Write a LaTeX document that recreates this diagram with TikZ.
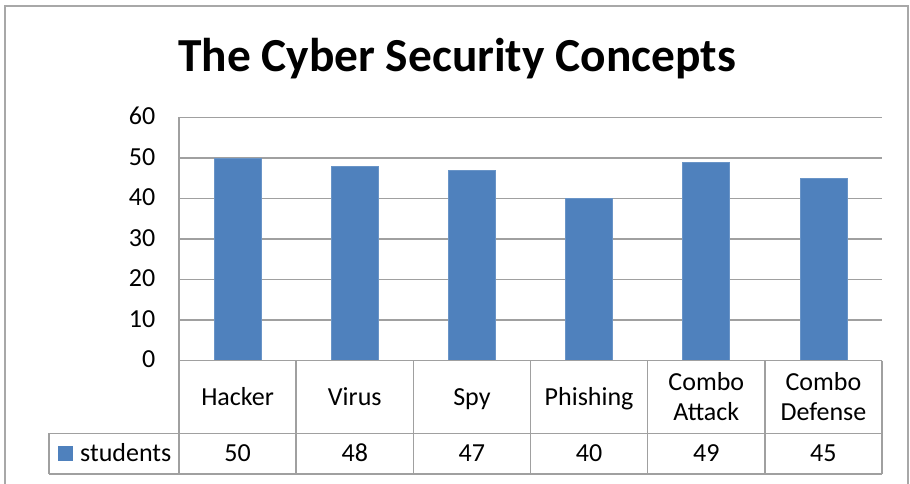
\documentclass[tikz,border=0pt]{standalone}
\usepackage{fontspec}
\setmainfont{Carlito}
\definecolor{barblue}{HTML}{4F81BD}
\definecolor{gridgray}{HTML}{A0A0A0}
\definecolor{framegray}{HTML}{A8A8A8}
\begin{document}
\begin{tikzpicture}[x=1pt,y=-1pt,
  lbl/.style={font=\fontsize{26}{30}\selectfont, text=black, inner sep=0pt, align=center},
  gridline/.style={draw=gridgray, line width=1.6pt},
  tableline/.style={draw=gridgray, line width=1.6pt},
  barfill/.style={fill=barblue, draw=barblue!85!white, line width=0.6pt}]
\useasboundingbox (0,0) rectangle (910,484);
% outer chart frame (open at the bottom)
\draw[framegray, line width=1.5pt] (5,484) -- (5,6) -- (908,6) -- (908,484);
% title
\node[font=\fontsize{47.4}{56}\bfseries\selectfont, anchor=base, inner sep=0pt] (title) at (457,72) {The Cyber Security Concepts};
% horizontal gridlines and value axis labels
\foreach \v in {0,...,6}{
  \pgfmathsetmacro{\yy}{360.5-40.53*\v}
  \pgfmathtruncatemacro{\tick}{10*\v}
  \draw[gridline] (179,\yy) -- (882,\yy);
  \node[lbl, anchor=base east] (tick\v) at (155.5,\yy+7.3) {\tick};
}
% bars
\foreach \i/\val in {0/50,1/48,2/47,3/40,4/49,5/45}{
  \pgfmathsetmacro{\cx}{179+117.17*(\i+0.5)}
  \path[barfill] (\cx-23.5,360.5) rectangle (\cx+23.5,{360.5-4.053*\val});
}
% data table
\draw[tableline] (179,117.3) -- (179,474);
\draw[tableline] (179,360.5) -- (882,360.5);
\draw[tableline] (49,433.3) -- (882,433.3);
\draw[tableline] (49,474) -- (882,474);
\draw[tableline] (49,433.3) -- (49,474);
\foreach \i in {1,...,6}{
  \pgfmathsetmacro{\bx}{179+117.17*\i}
  \draw[tableline] (\bx,360.5) -- (\bx,474);
}
% category labels
\node[lbl, anchor=base] (c0) at (237.6,405) {Hacker};
\node[lbl, anchor=base] (c1) at (354.8,405) {Virus};
\node[lbl, anchor=base] (c2) at (471.9,405) {Spy};
\node[lbl, anchor=base] (c3) at (589.1,405) {Phishing};
\node[lbl, anchor=center] (c4) at (706.3,396.5) {Combo\\Attack};
\node[lbl, anchor=center] (c5) at (823.4,396.5) {Combo\\Defense};
% value row
\node[lbl, anchor=base] (d0) at (237.6,461.7) {50};
\node[lbl, anchor=base] (d1) at (354.8,461.7) {48};
\node[lbl, anchor=base] (d2) at (471.9,461.7) {47};
\node[lbl, anchor=base] (d3) at (589.1,461.7) {40};
\node[lbl, anchor=base] (d4) at (706.3,461.7) {49};
\node[lbl, anchor=base] (d5) at (823.4,461.7) {45};
% legend key
\fill[barblue] (58,446) rectangle (72.7,460.7);
\node[lbl, anchor=base west] (series) at (80,461.7) {students};
\end{tikzpicture}
\end{document}
